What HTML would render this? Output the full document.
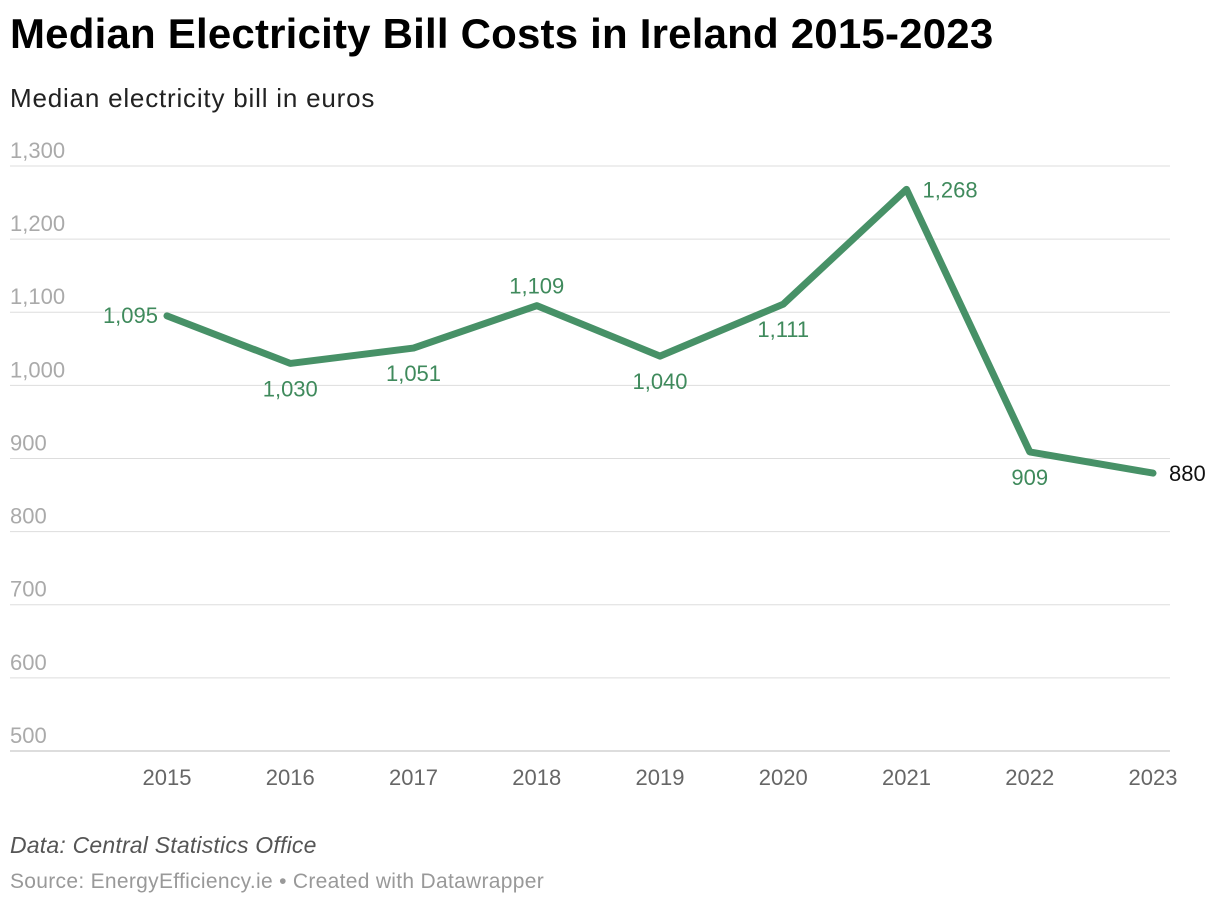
<!DOCTYPE html>
<html><head><meta charset="utf-8"><style>
body{margin:0;background:#fff;width:1220px;height:906px;overflow:hidden;font-family:"Liberation Sans",sans-serif}
.t{position:absolute;left:10px;white-space:nowrap}
</style></head><body>
<div class="t" style="top:10px;font-size:42px;font-weight:bold;color:#000;letter-spacing:0.2px">Median Electricity Bill Costs in Ireland 2015-2023</div>
<div class="t" style="top:83px;font-size:26px;color:#222;letter-spacing:0.8px">Median electricity bill in euros</div>
<div class="t" style="top:832px;font-size:23px;font-style:italic;color:#555;letter-spacing:0.2px">Data: Central Statistics Office</div>
<div class="t" style="top:870px;font-size:21px;color:#999;letter-spacing:0.3px">Source: EnergyEfficiency.ie • Created with Datawrapper</div>
<svg id="c" width="1220" height="906" style="position:absolute;left:0;top:0" font-family="Liberation Sans, sans-serif"></svg>
<script>
const years=["2015","2016","2017","2018","2019","2020","2021","2022","2023"];
const values=[1095,1030,1051,1109,1040,1111,1268,909,880];
const placement=["left","below","below","above","below","below","right","below","right"];
const yTicks=[500,600,700,800,900,1000,1100,1200,1300];
const svg=document.getElementById('c');const NS='http://www.w3.org/2000/svg';
const x=i=>167+i*123.25;
const y=v=>751-(v-500)*0.7313;
function mk(t,a,txt){const e=document.createElementNS(NS,t);for(const k in a)e.setAttribute(k,a[k]);if(txt!==undefined)e.textContent=txt;svg.appendChild(e);return e;}
const fmt=v=>v.toLocaleString('en-US');
yTicks.forEach(v=>{
 const l=mk('line',{x1:10,x2:1170,y1:y(v),y2:y(v),stroke:v===500?'#bbb':'#ddd','stroke-width':1});
 
 
 const t=mk('text',{x:10,y:y(v)-8,'font-size':22,fill:'#aaa'},fmt(v));
 
 
});
years.forEach((yr,i)=>{
 const t=mk('text',{x:x(i),y:785,'font-size':22,fill:'#666','text-anchor':'middle'},yr);
 
 
});
const p=mk('polyline',{points:values.map((v,i)=>x(i)+','+y(v)).join(' '),fill:'none',stroke:'#479167','stroke-width':7,'stroke-linejoin':'round','stroke-linecap':'round'});


values.forEach((v,i)=>{
 let lx=x(i),ly=y(v),a='middle';
 const pl=placement[i];
 if(pl==='left'){lx-=9;ly+=7;a='end';}
 else if(pl==='right'){lx+=16;ly+=8;a='start';}
 else if(pl==='above'){ly-=12;}
 else{ly+=33;}
 const t=mk('text',{x:lx,y:ly,'font-size':22,fill:i===values.length-1?'#111':'#3f8a5c','text-anchor':a},fmt(v));
 
 
});
</script>
</body></html>
